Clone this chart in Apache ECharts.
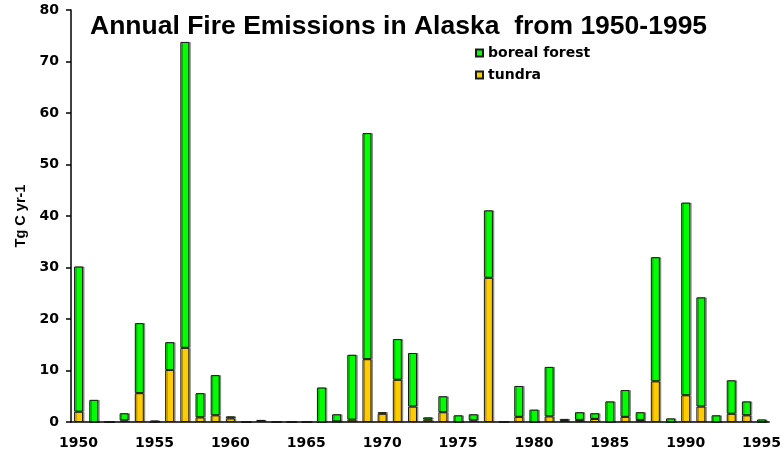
<!DOCTYPE html>
<html>
<head>
<meta charset="utf-8">
<title>Annual Fire Emissions in Alaska</title>
<script src="https://cdn.jsdelivr.net/npm/echarts@6/dist/echarts.min.js"></script>
<style>
  html, body { margin: 0; padding: 0; background: #fff; }
  #chart { width: 784px; height: 453px; }
</style>
</head>
<body>
<div id="chart"></div>
<script>
// years 1950-1995
var years = ['1950', '1951', '1952', '1953', '1954', '1955', '1956', '1957', '1958', '1959',
  '1960', '1961', '1962', '1963', '1964', '1965', '1966', '1967', '1968', '1969',
  '1970', '1971', '1972', '1973', '1974', '1975', '1976', '1977', '1978', '1979',
  '1980', '1981', '1982', '1983', '1984', '1985', '1986', '1987', '1988', '1989',
  '1990', '1991', '1992', '1993', '1994', '1995']

// Tg C yr-1
var tundra = [2.0, 0, 0, 0.3, 5.6, 0, 10.1, 14.4, 0.9, 1.3,
  0.7, 0, 0.2, 0, 0, 0, 0, 0.1, 0.45, 12.2,
  1.6, 8.2, 3.0, 0.45, 1.9, 0, 0.3, 28.0, 0, 1.0,
  0, 1.1, 0.2, 0.4, 0.6, 0, 1.0, 0.4, 7.9, 0,
  5.2, 3.0, 0, 1.6, 1.3, 0]

var borealForest = [28.2, 4.3, 0, 1.4, 13.6, 0.3, 5.4, 59.4, 4.7, 7.8,
  0.4, 0, 0.2, 0.15, 0, 0, 6.7, 1.4, 12.6, 43.9,
  0.3, 7.9, 10.4, 0.45, 3.1, 1.3, 1.2, 13.1, 0.1, 6.0,
  2.4, 9.6, 0.4, 1.5, 1.1, 4.0, 5.2, 1.5, 24.1, 0.7,
  37.4, 21.2, 1.3, 6.5, 2.7, 0.5]

var labelFont = 'DejaVu Sans'
var barStyle = {
  borderColor: '#1a1a1a',
  borderWidth: 1,
  shadowColor: 'rgba(0,0,0,0.35)',
  shadowOffsetX: 1.5,
  shadowOffsetY: 0,
  shadowBlur: 0
}

var chart = echarts.init(document.getElementById('chart'))
chart.setOption({
  animation: false,
  backgroundColor: '#fff',
  title: {
    text: 'Annual Fire Emissions in Alaska  from 1950-1995',
    left: 90,
    top: 13,
    padding: 0,
    textStyle: {
      fontFamily: 'Liberation Sans',
      fontWeight: 'bold',
      fontSize: 26.5,
      color: '#000'
    }
  },
  legend: {
    data: ['boreal forest', 'tundra'],
    orient: 'vertical',
    left: 475,
    top: 46,
    padding: 0,
    itemWidth: 7,
    itemHeight: 7,
    itemGap: 8,
    icon: 'rect',
    textStyle: {
      fontFamily: labelFont,
      fontWeight: 'bold',
      fontSize: 14,
      color: '#000'
    }
  },
  grid: {
    left: 71,
    right: 9,
    top: 10,
    bottom: 31,
    containLabel: false
  },
  xAxis: {
    type: 'category',
    data: years,
    boundaryGap: true,
    axisLine: { lineStyle: { color: '#000', width: 1.5 } },
    axisTick: { interval: 4, length: 4, lineStyle: { color: '#000', width: 1.5 } },
    axisLabel: {
      interval: 4,
      margin: 14,
      fontFamily: labelFont,
      fontWeight: 'bold',
      fontSize: 14,
      color: '#000'
    },
    splitLine: { show: false }
  },
  yAxis: {
    type: 'value',
    min: 0,
    max: 80,
    interval: 10,
    name: 'Tg C yr-1',
    nameLocation: 'middle',
    nameRotate: 90,
    nameGap: 41,
    nameTextStyle: {
      fontFamily: 'Liberation Sans',
      fontWeight: 'bold',
      fontSize: 14.5,
      color: '#000'
    },
    axisLine: { show: true, lineStyle: { color: '#000', width: 1.5 } },
    axisTick: { show: true, length: 5, lineStyle: { color: '#000', width: 1.5 } },
    axisLabel: {
      margin: 12,
      fontFamily: labelFont,
      fontWeight: 'bold',
      fontSize: 14,
      color: '#000'
    },
    splitLine: { show: false }
  },
  series: [
    {
      name: 'tundra',
      type: 'bar',
      stack: 'total',
      barWidth: 9,
      itemStyle: Object.assign({ color: '#ffcc00' }, barStyle),
      data: tundra
    },
    {
      name: 'boreal forest',
      type: 'bar',
      stack: 'total',
      barWidth: 9,
      itemStyle: Object.assign({ color: '#00ff00' }, barStyle),
      data: borealForest
    }
  ]
})
</script>
</body>
</html>
